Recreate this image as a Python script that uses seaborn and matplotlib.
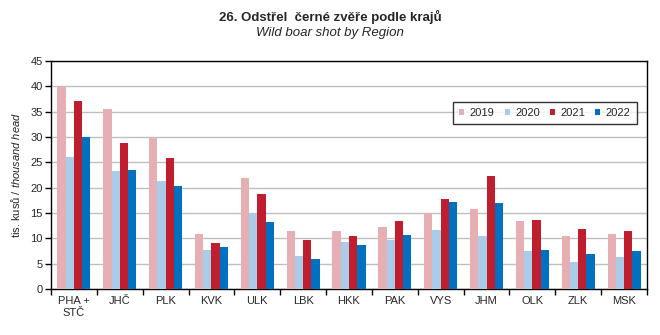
import matplotlib
matplotlib.use("Agg")
import matplotlib.pyplot as plt
import seaborn as sns
import pandas as pd
import numpy as np
from matplotlib import font_manager

regions = ["PHA +\nSTČ", "JHČ", "PLK", "KVK", "ULK", "LBK", "HKK", "PAK", "VYS", "JHM", "OLK", "ZLK", "MSK"]
years = ["2019", "2020", "2021", "2022"]
v2019 = [40.0, 35.5, 29.9, 10.9, 21.9, 11.4, 11.4, 12.2, 15.0, 15.8, 13.4, 10.5, 10.9]
v2020 = [26.0, 23.3, 21.3, 7.7, 15.0, 6.5, 9.3, 9.7, 11.6, 10.5, 7.5, 5.3, 6.3]
v2021 = [37.1, 28.8, 25.8, 9.1, 18.7, 9.7, 10.5, 13.4, 17.8, 22.3, 13.6, 11.8, 11.4]
v2022 = [30.0, 23.5, 20.3, 8.3, 13.2, 5.9, 8.7, 10.6, 17.2, 17.0, 7.7, 6.9, 7.5]
colors = ["#E6AFB4", "#A9CCE8", "#BE1E2D", "#0070C0"]

sns.set_style("white")
plt.rcParams["font.family"] = ["Liberation Sans", "DejaVu Sans"]
plt.rcParams["mathtext.fontset"] = "custom"
plt.rcParams["mathtext.rm"] = "Liberation Sans"
plt.rcParams["mathtext.it"] = "Liberation Sans:italic"

names = {f.name for f in font_manager.fontManager.ttflist}
title_family = ["Liberation Sans Narrow", "Liberation Sans"] if "Liberation Sans Narrow" in names else ["Liberation Sans"]
print(sorted(names))

rows = []
for y, vals in zip(years, [v2019, v2020, v2021, v2022]):
    for r, v in zip(regions, vals):
        rows.append({"region": r, "year": y, "value": v})
df = pd.DataFrame(rows)

fig = plt.figure(figsize=(6.6, 3.35), dpi=100)
ax = fig.add_axes([51/660, 46/335, 596/660, 228/335])
sns.barplot(data=df, x="region", y="value", hue="year", order=regions, hue_order=years,
            palette=colors, width=0.72, saturation=1, errorbar=None, ax=ax, zorder=3,
            edgecolor="none", linewidth=0)

ax.set_ylim(0, 45)
ax.set_yticks(np.arange(0, 50, 5))
ax.set_xlim(-0.5, len(regions) - 0.5)
ax.yaxis.grid(True, color="#BFBFBF", linewidth=1, zorder=0)
ax.xaxis.grid(False)
for s in ax.spines.values():
    s.set_visible(True)
    s.set_color("black")
    s.set_linewidth(1)
ax.tick_params(axis="x", which="major", length=0, labelsize=8, pad=5)
ax.set_xticks(np.arange(-0.5, len(regions), 1), minor=True)
ax.tick_params(axis="x", which="minor", length=4, width=1, color="black", direction="out", bottom=True)
ax.tick_params(axis="y", length=4, width=1, color="black", direction="out", left=True, labelsize=8, pad=2)
ax.set_xlabel("")
ax.set_ylabel("tis. kusů / $\\it{thousand\\ head}$", fontsize=8, labelpad=6)

leg = ax.legend(ncol=4, loc="upper right", bbox_to_anchor=(0.983, 0.82), borderaxespad=0,
                fontsize=8, frameon=True, fancybox=False, handlelength=0.45, handleheight=0.45,
                handletextpad=0.5, columnspacing=0.9, borderpad=0.55)
leg.get_frame().set_edgecolor("black")
leg.get_frame().set_linewidth(1)

fig.text(0.5, 1 - 17/335, "26. Odstřel  černé zvěře podle krajů", ha="center", va="center",
         fontsize=9.5, fontweight="bold", family=title_family)
fig.text(0.5, 1 - 33/335, "Wild boar shot by Region", ha="center", va="center",
         fontsize=9.5, style="italic", family=title_family)

fig.savefig("out.png", dpi=100)
